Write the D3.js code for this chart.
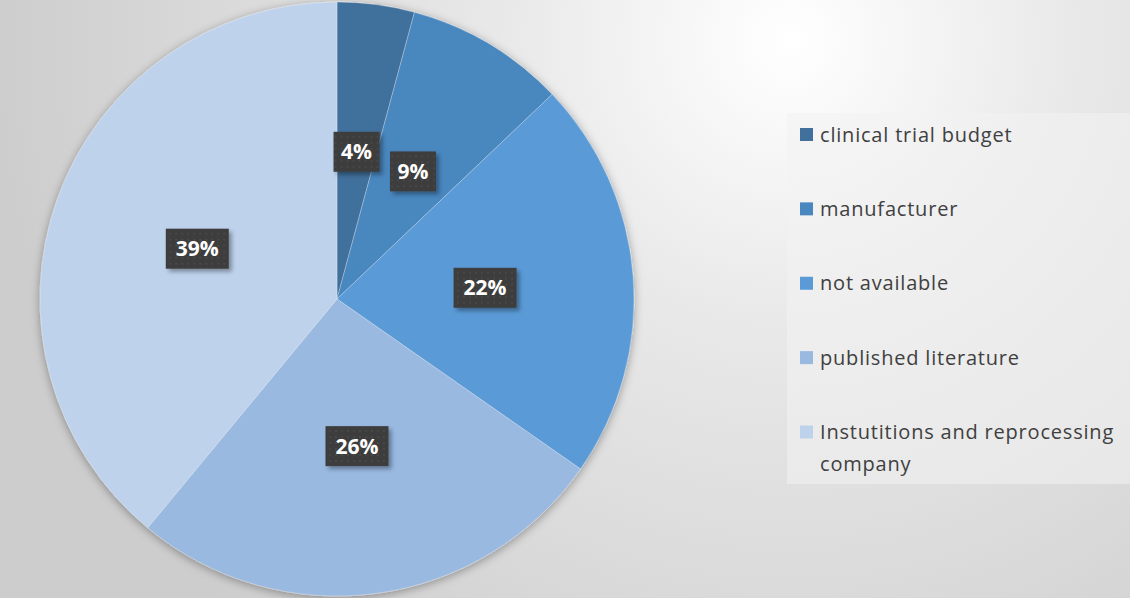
<!DOCTYPE html>
<html>
<head>
<meta charset="utf-8">
<script src="https://cdn.jsdelivr.net/npm/d3@7"></script>
<style>
    html, body { margin: 0; padding: 0; overflow: hidden; }
    svg { display: block; }
</style>
</head>
<body>
<div id="chart"></div>
<script>
// chart data
const categories = [
    "clinical trial budget",
    "manufacturer",
    "not available",
    "published literature",
    "Instutitions and reprocessing company"
];
const shares = [4.2, 8.7, 21.8, 26.3, 39.0];
const sliceColors = ["#41709c", "#4a87bf", "#5a9ad6", "#99b9e1", "#bed2ec"];
// legend text is wrapped like in the original
const legendLines = [
    ["clinical trial budget"],
    ["manufacturer"],
    ["not available"],
    ["published literature"],
    ["Instutitions and reprocessing", "company"]
];

const buildPie = (parent) => {
    var width = 1130;
    var height = 598;
    var cx = 337, cy = 299, radius = 297;

    var svg = d3.select(parent).append("svg")
        .attr("width", width)
        .attr("height", height);

    const defs = svg.append("defs");

    // background: light spot top right, greying toward the edges
    const bg = defs.append("radialGradient")
        .attr("id", "bg")
        .attr("gradientUnits", "userSpaceOnUse")
        .attr("cx", 790).attr("cy", 40).attr("r", 800);
    bg.append("stop").attr("offset", "0%").attr("stop-color", "#ffffff");
    bg.append("stop").attr("offset", "35%").attr("stop-color", "#e9e9e9");
    bg.append("stop").attr("offset", "100%").attr("stop-color", "#cdcdcd");

    const pieShadow = defs.append("filter").attr("id", "pieShadow")
        .attr("x", "-10%").attr("y", "-10%").attr("width", "120%").attr("height", "120%");
    pieShadow.append("feDropShadow")
        .attr("dx", 0).attr("dy", 2)
        .attr("stdDeviation", 5)
        .attr("flood-color", "#000")
        .attr("flood-opacity", 0.35);

    const labelShadow = defs.append("filter").attr("id", "labelShadow")
        .attr("x", "-30%").attr("y", "-30%").attr("width", "160%").attr("height", "160%");
    labelShadow.append("feDropShadow")
        .attr("dx", 3).attr("dy", 3)
        .attr("stdDeviation", 2)
        .attr("flood-color", "#000")
        .attr("flood-opacity", 0.35);

    // dotted texture of the data label boxes
    const dots = defs.append("pattern")
        .attr("id", "dots")
        .attr("patternUnits", "userSpaceOnUse")
        .attr("width", 6).attr("height", 6);
    dots.append("rect").attr("width", 6).attr("height", 6).attr("fill", "#3d3d3d");
    dots.append("circle").attr("cx", 3).attr("cy", 3).attr("r", 0.8).attr("fill", "#545454");

    svg.append("rect")
        .attr("width", width)
        .attr("height", height)
        .attr("fill", "url(#bg)");

    const color = d3.scaleOrdinal().domain(categories).range(sliceColors);

    const pie = d3.pie()
        .value(d => d.value)
        .sort(null);

    const arcs = pie(categories.map((c, i) => ({ name: c, value: shares[i] })));
    const total = d3.sum(shares);

    const arc = d3.arc().innerRadius(0).outerRadius(radius);
    const labelArc = d3.arc().innerRadius(radius * 0.5).outerRadius(radius * 0.5);

    const g = svg.append("g")
        .attr("transform", "translate(" + cx + "," + cy + ")");

    // slices
    g.append("g")
        .attr("filter", "url(#pieShadow)")
        .selectAll("path")
        .data(arcs)
        .enter().append("path")
        .attr("d", arc)
        .attr("fill", d => color(d.data.name))
        .attr("stroke", "#ffffff")
        .attr("stroke-opacity", 0.35)
        .attr("stroke-width", 0.8);

    // data labels
    const label = g.append("g")
        .selectAll("g")
        .data(arcs)
        .enter().append("g")
        .attr("transform", d => "translate(" + labelArc.centroid(d) + ")");

    const fmt = d => Math.round(d.data.value / total * 100) + "%";
    const boxW = d => fmt(d).length * 17 + 12;

    label.append("rect")
        .attr("x", d => -boxW(d) / 2)
        .attr("y", -20)
        .attr("width", boxW)
        .attr("height", 40)
        .attr("fill", "url(#dots)")
        .attr("filter", "url(#labelShadow)");

    label.append("text")
        .attr("text-anchor", "middle")
        .attr("dy", "0.36em")
        .attr("fill", "#ffffff")
        .style("font-family", "'Open Sans', Lato, sans-serif")
        .style("font-weight", "bold")
        .style("font-size", "21px")
        .text(fmt);

    // legend
    const legend = svg.append("g");

    legend.append("rect")
        .attr("x", 787)
        .attr("y", 113)
        .attr("width", 350)
        .attr("height", 371)
        .attr("fill", "#f2f2f2")
        .attr("fill-opacity", 0.55);

    const legendY = d3.scalePoint()
        .domain(categories)
        .range([134.5, 432]);

    const item = legend.selectAll(".item")
        .data(categories)
        .enter().append("g")
        .attr("class", "item")
        .attr("transform", d => "translate(800," + legendY(d) + ")");

    item.append("rect")
        .attr("x", 0)
        .attr("y", -6.5)
        .attr("width", 13)
        .attr("height", 13)
        .attr("fill", d => color(d));

    item.append("text")
        .attr("x", 20)
        .attr("y", 7)
        .attr("fill", "#404040")
        .style("font-family", "'Open Sans', Lato, sans-serif")
        .style("font-size", "20px")
        .style("letter-spacing", "0.8px")
        .selectAll("tspan")
        .data((d, i) => legendLines[i])
        .enter().append("tspan")
        .attr("x", 20)
        .attr("dy", (d, i) => i === 0 ? 0 : 32)
        .text(d => d);

    return svg.node();
};

buildPie("#chart");
</script>
</body>
</html>
